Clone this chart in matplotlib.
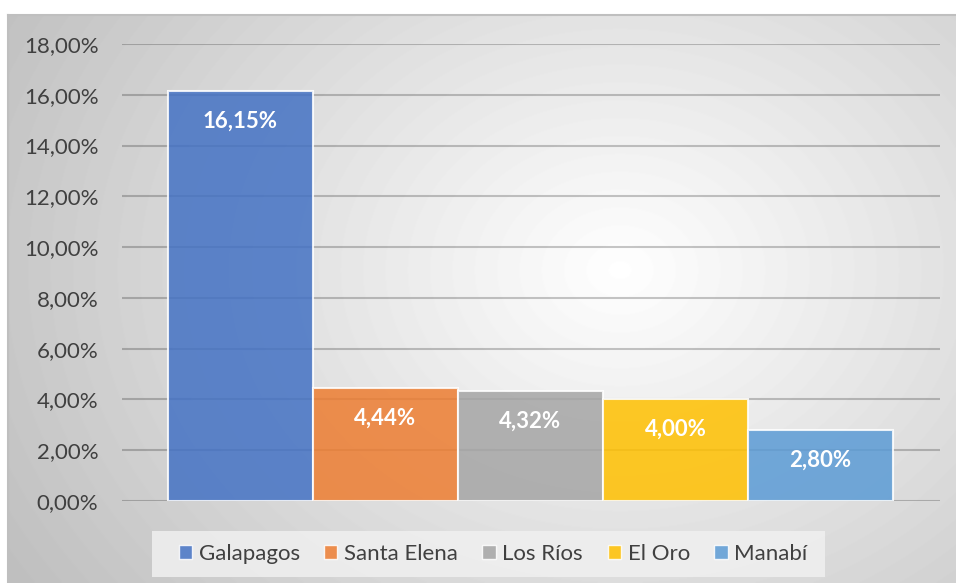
import numpy as np
import matplotlib.pyplot as plt
from matplotlib.patches import Patch, Rectangle
from matplotlib.ticker import FuncFormatter

plt.rcParams['font.family'] = ['Lato', 'DejaVu Sans']

provinces = ['Galapagos', 'Santa Elena', 'Los Ríos', 'El Oro', 'Manabí']
values = [16.15, 4.44, 4.32, 4.00, 2.80]
colors = ['#4472C4', '#ED7D31', '#A5A5A5', '#FFC000', '#5B9BD5']
y_ticks = [0, 2, 4, 6, 8, 10, 12, 14, 16, 18]


def pct(v):
    return f'{v:.2f}%'.replace('.', ',')


W, H = 956, 583
fig = plt.figure(figsize=(W / 100, H / 100), dpi=100)

# chart area background, radial grey gradient
bg = fig.add_axes([8 / W, 0, (W - 8) / W, (H - 15) / H])
gx, gy = np.meshgrid(np.arange(8, W), np.arange(15, H))
r = np.sqrt(((gx - 620) / 600) ** 2 + ((gy - 270) / 480) ** 2)
img = np.clip(1 - 0.21 * r, 0, 1)
bg.imshow(img, cmap='gray', vmin=0, vmax=1, aspect='auto',
          extent=[0, 1, 0, 1], origin='upper')
bg.set_xticks([])
bg.set_yticks([])
bg.spines['right'].set_visible(False)
bg.spines['bottom'].set_visible(False)
for side in ['top', 'left']:
    bg.spines[side].set_color('#bfbfbf')
    bg.spines[side].set_linewidth(1.5)

# light box behind the legend
fig.patches.append(Rectangle((152 / W, 1 - 577 / H), 673 / W, 46 / H,
                             transform=fig.transFigure, facecolor='#f0f0f0',
                             edgecolor='none', alpha=0.85, zorder=1))

ax = fig.add_axes([122 / W, 1 - 501 / H, 818 / W, (501 - 44) / H])
ax.patch.set_alpha(0)
ax.set_axisbelow(True)
x = np.arange(len(values))
ax.bar(x, values, width=1.0, color=colors, alpha=0.85,
       edgecolor=(1, 1, 1, 0.45), linewidth=1.5)
for xi, v in zip(x, values):
    ax.annotate(pct(v), (xi, v), xytext=(0, -21.5), textcoords='offset points',
                ha='center', va='center', color='white', fontsize=16,
                fontweight='bold')

ax.set_xlim(-0.5 - 46 / 145, 4.5 + 47 / 145)
ax.set_ylim(0, 18)
ax.set_yticks(y_ticks)
ax.yaxis.set_major_formatter(FuncFormatter(lambda v, p: pct(v)))
ax.set_xticks([])
ax.tick_params(axis='y', length=0, pad=17, labelsize=16, labelcolor='#404040')
ax.grid(axis='y', color='black', alpha=0.22, linewidth=1.5)
for s in ax.spines.values():
    s.set_visible(False)

handles = [Patch(facecolor=c, alpha=0.85, edgecolor=(1, 1, 1, 0.45)) for c in colors]
fig.legend(handles, provinces, ncol=5, loc='center',
           bbox_to_anchor=(493 / W, 1 - 554 / H),
           fontsize=16, frameon=False,
           handlelength=0.6, handleheight=0.6, handletextpad=0.3,
           columnspacing=1.1, labelcolor='#404040')

fig.savefig('out.png', dpi=100)
